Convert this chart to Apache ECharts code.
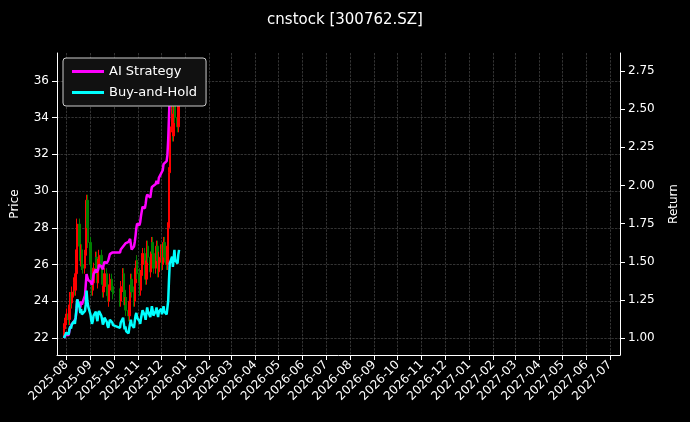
<!DOCTYPE html><html><head><meta charset="utf-8">
<script src="https://cdn.jsdelivr.net/npm/echarts@6/dist/echarts.min.js"></script>
<style>html,body{margin:0;background:#000}#c{width:690px;height:422px}</style></head><body><div id="c"></div>
<script>
const closes=[22.5,22.8,23.0,
23.3,23.0,23.8,24.2,23.9,24.5,25.0,24.6,25.5,26.8,28.2,27.0,26.2,26.8,26.0,25.8,26.5,27.5,29.5,28.0,27.2,
26.0,25.2,24.6,25.0,25.8,26.4,25.5,25.0,26.0,26.5,25.8,25.2,24.5,24.8,25.5,24.9,24.3,24.0,24.6,25.2,24.8,24.4,
24.0,24.8,25.5,24.6,23.8,24.2,23.5,23.2,24.0,24.6,25.2,24.5,24.0,25.0,25.8,26.2,25.5,
25.0,24.6,25.4,26.0,26.6,25.8,25.2,26.2,27.0,26.4,25.6,26.4,27.2,26.6,25.8,26.5,27.0,26.2,25.6,26.4,
26.8,26.0,26.6,27.2,26.4,26.0,27.0,28.0,31.0,33.5,34.5,33.0,34.2,35.5,34.0,33.5,34.8,35.5];
const aiReturn=[1.0,1.01,1.02,
1.03,1.02,1.05,1.07,1.06,1.09,1.11,1.10,1.13,1.18,1.25,1.22,1.20,1.24,1.22,1.23,1.28,1.35,1.42,1.40,1.38,
1.37,1.36,1.35,1.38,1.42,1.45,1.43,1.42,1.45,1.48,1.47,1.46,1.45,1.48,1.50,1.49,1.50,1.51,1.53,1.55,1.56,1.57,
1.56,1.58,1.60,1.60,1.61,1.62,1.62,1.63,1.64,1.65,1.64,1.58,1.60,1.63,1.67,1.72,1.75,
1.74,1.76,1.80,1.83,1.86,1.85,1.88,1.92,1.94,1.93,1.92,1.96,1.99,2.00,1.98,2.01,2.03,2.02,2.01,2.05,
2.08,2.07,2.10,2.14,2.15,2.16,2.20,2.30,2.45,2.60,2.68,2.62,2.66,2.72,2.70,2.68,2.72,2.76];
const priceTicks=[22,24,26,28,30,32,34,36];
const returnTicks=[1.00,1.25,1.50,1.75,2.00,2.25,2.50,2.75];
const dates=[];{let d=new Date(Date.UTC(2025,6,29));while(dates.length<closes.length){const w=d.getUTCDay();const s=d.toISOString().slice(0,10);const hol=s>='2025-10-01'&&s<='2025-10-08';if(w!==0&&w!==6&&!hol)dates.push(s);d=new Date(d.getTime()+86400000);}}
const candles=closes.map((c,i)=>{const o=i?closes[i-1]:c-0.2;return [dates[i],o,c,Math.min(o,c)-0.3,Math.max(o,c)+0.3];});
const bh=closes.map((c,i)=>[dates[i],c/closes[0]]);
const ai=aiReturn.map((v,i)=>[dates[i],v]);
const ch=echarts.init(document.getElementById('c'));
const gl={show:true,lineStyle:{color:'#555',type:'dashed',width:0.6}};
const F='DejaVu Sans';
ch.setOption({backgroundColor:'#000',animation:false,
title:{text:'cnstock [300762.SZ]',left:'center',top:8,textStyle:{color:'#fff',fontSize:15,fontWeight:'normal',fontFamily:F}},
legend:{left:63,top:58,orient:'vertical',itemGap:8,itemWidth:32,itemHeight:3,backgroundColor:'#111',borderColor:'#ccc',borderWidth:1,borderRadius:3,padding:[7,9],textStyle:{color:'#fff',fontSize:13,fontFamily:F},data:[{name:'AI Strategy',icon:'rect'},{name:'Buy-and-Hold',icon:'rect'}]},
grid:{left:57,right:70,top:53,bottom:67},
xAxis:{type:'time',min:'2025-07-20',max:'2027-07-14',splitNumber:24,axisLine:{lineStyle:{color:'#fff'}},axisTick:{lineStyle:{color:'#fff'}},splitLine:gl,axisLabel:{color:'#fff',rotate:45,fontSize:12,fontFamily:F,formatter:'{yyyy}-{MM}',hideOverlap:false}},
yAxis:[{type:'value',min:21.07,max:37.52,name:'Price',nameLocation:'middle',nameGap:36,nameTextStyle:{color:'#fff',fontSize:12,fontFamily:F},axisLine:{show:true,lineStyle:{color:'#fff'}},axisTick:{show:true,customValues:priceTicks},axisLabel:{color:'#fff',fontSize:12,fontFamily:F,customValues:priceTicks},splitLine:gl},
{type:'value',min:0.889,max:2.868,name:'Return',nameLocation:'middle',nameGap:48,nameTextStyle:{color:'#fff',fontSize:12,fontFamily:F},axisLine:{show:true,lineStyle:{color:'#fff'}},axisTick:{show:true,customValues:returnTicks},axisLabel:{color:'#fff',fontSize:12,fontFamily:F,customValues:returnTicks,formatter:v=>v.toFixed(2)},splitLine:{show:false}}],
series:[{type:'candlestick',yAxisIndex:0,data:candles,barMaxWidth:2,itemStyle:{color:'#ff0000',color0:'#008000',borderColor:'#ff0000',borderColor0:'#008000'}},
{name:'AI Strategy',type:'line',yAxisIndex:1,data:ai,showSymbol:false,lineStyle:{color:'#ff00ff',width:2.5},itemStyle:{color:'#ff00ff'}},
{name:'Buy-and-Hold',type:'line',yAxisIndex:1,data:bh,showSymbol:false,lineStyle:{color:'#00ffff',width:2.5},itemStyle:{color:'#00ffff'}}]});
</script></body></html>
